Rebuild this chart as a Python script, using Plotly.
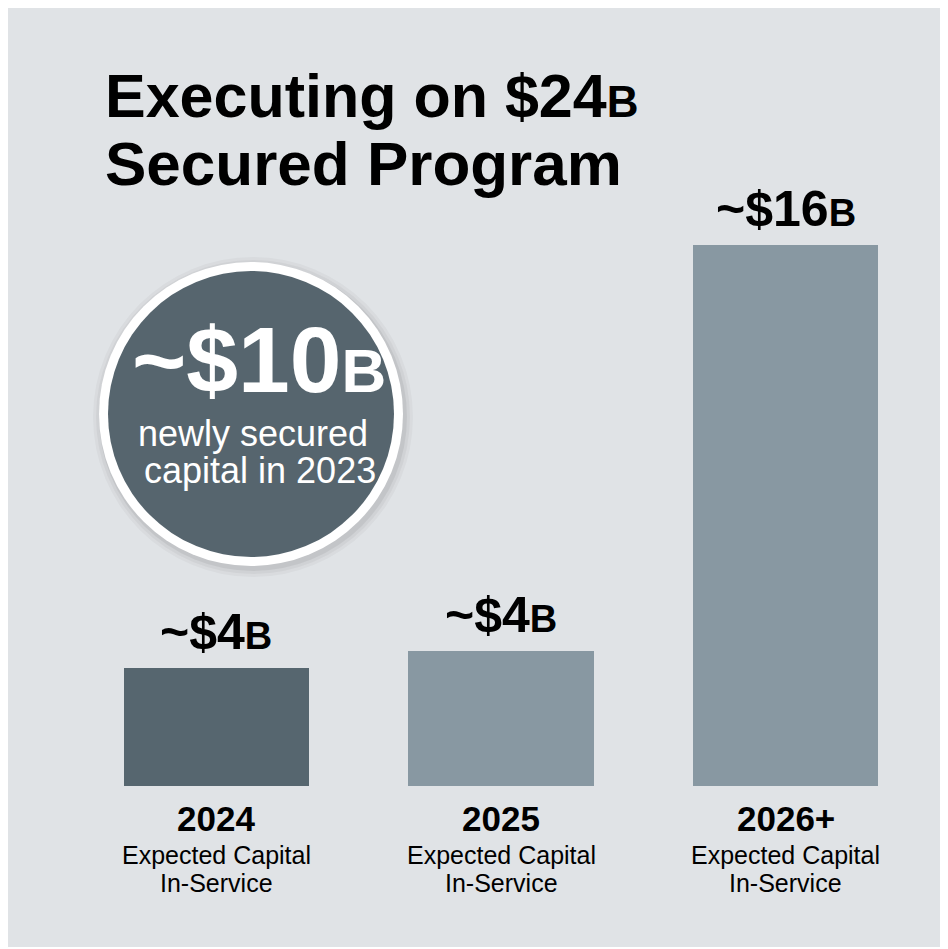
import plotly.graph_objects as go

# data
years = ['2024', '2025', '2026+']
capital = [3.5, 4, 16]
value_labels = ['~$4', '~$4', '~$16']
sub_line1 = 'Expected Capital'
sub_line2 = 'In-Service'

# the page has an 8px body margin, so the figure is 8px smaller than the window
OFF = 8
W, H = 940, 941
BG = '#e0e3e6'
DARK = '#56666f'
LIGHT = '#8898a2'
SANS = 'Liberation Sans, Arial, sans-serif'


def px(x):
    return (x - OFF) / W


def py(y):
    return 1 - (y - OFF) / H


fig = go.Figure()
fig.add_trace(go.Bar(
    x=years,
    y=capital,
    width=0.65,
    marker=dict(color=[DARK, LIGHT, LIGHT], line=dict(width=0)),
    hoverinfo='skip',
))

shapes = [
    dict(type='rect', xref='paper', yref='paper', x0=0, x1=1, y0=py(947), y1=1,
         fillcolor=BG, line=dict(width=0), layer='below'),
]
# circle shadow + ring + disc
cx, cy = 251, 414
for r, a in [(160, 0.03), (157, 0.04), (154, 0.06)]:
    shapes.append(dict(type='circle', xref='paper', yref='paper',
                       x0=px(cx - r + 2), x1=px(cx + r + 2), y0=py(cy + r + 3), y1=py(cy - r + 3),
                       fillcolor=f'rgba(0,0,0,{a})', line=dict(width=0), layer='above'))
shapes.append(dict(type='circle', xref='paper', yref='paper',
                   x0=px(cx - 152), x1=px(cx + 152), y0=py(cy + 152), y1=py(cy - 152),
                   fillcolor='white', line=dict(width=0), layer='above'))
shapes.append(dict(type='circle', xref='paper', yref='paper',
                   x0=px(cx - 143), x1=px(cx + 143), y0=py(cy + 143), y1=py(cy - 143),
                   fillcolor='#56656e', line=dict(width=0), layer='above'))

ann = []
# title
ann.append(dict(xref='paper', yref='paper', x=px(103), y=py(96), xanchor='left', yanchor='middle',
                text='Executing on $24<span style="font-size:44px">B</span>',
                font=dict(family=SANS, size=61, color='black', weight='bold'), showarrow=False))
ann.append(dict(xref='paper', yref='paper', x=px(103), y=py(164), xanchor='left', yanchor='middle',
                text='Secured Program',
                font=dict(family=SANS, size=62, color='black', weight='bold'), showarrow=False))

# value labels above bars (numeric category positions)
for i, (v, lab) in enumerate(zip(capital, value_labels)):
    ann.append(dict(x=i, y=v, xref='x', yref='y', xanchor='center', yanchor='bottom', yshift=6,
                    text=f'{lab}<span style="font-size:38px">B</span>',
                    font=dict(family=SANS, size=50, color='black', weight='bold'), showarrow=False))

# category labels under bars
for i, yr in enumerate(years):
    ann.append(dict(x=i, y=py(818), xref='x', yref='paper', xanchor='center', yanchor='middle',
                    text=yr, font=dict(family=SANS, size=35, color='black', weight='bold'), showarrow=False))
    ann.append(dict(x=i, y=py(855), xref='x', yref='paper', xanchor='center', yanchor='middle',
                    text=sub_line1, font=dict(family=SANS, size=25, color='black'), showarrow=False))
    ann.append(dict(x=i, y=py(883), xref='x', yref='paper', xanchor='center', yanchor='middle',
                    text=sub_line2, font=dict(family=SANS, size=25, color='black'), showarrow=False))

# circle text
ann.append(dict(xref='paper', yref='paper', x=px(259), y=py(360), xanchor='center', yanchor='middle',
                text='~$10<span style="font-size:62px">B</span>',
                font=dict(family=SANS, size=93, color='white', weight='bold'), showarrow=False))
ann.append(dict(xref='paper', yref='paper', x=px(253), y=py(433), xanchor='center', yanchor='middle',
                text='newly secured', font=dict(family=SANS, size=36, color='white'), showarrow=False))
ann.append(dict(xref='paper', yref='paper', x=px(260), y=py(470), xanchor='center', yanchor='middle',
                text='capital in 2023', font=dict(family=SANS, size=36, color='white'), showarrow=False))

fig.update_layout(
    width=W, height=H,
    margin=dict(l=0, r=0, t=0, b=0),
    paper_bgcolor='white',
    plot_bgcolor='rgba(0,0,0,0)',
    showlegend=False,
    bargap=0,
    xaxis=dict(type='category', domain=[px(74), px(928)], range=[-0.5, 2.5], visible=False, fixedrange=True),
    yaxis=dict(domain=[py(786), py(245)], range=[0, 16], visible=False, fixedrange=True),
    shapes=shapes,
    annotations=ann,
)

fig.write_html('out.html')
